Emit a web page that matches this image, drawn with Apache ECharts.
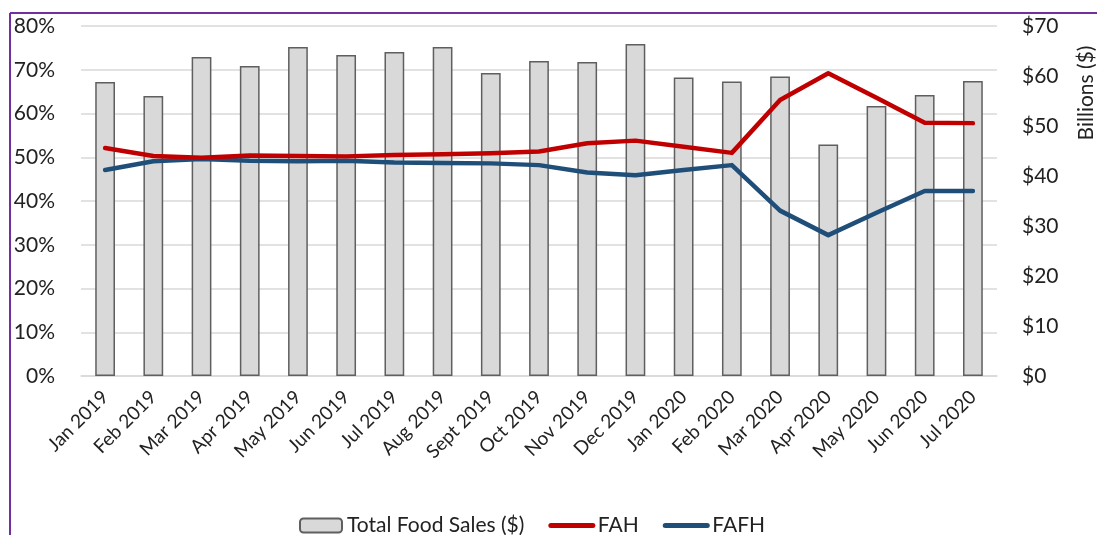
<!DOCTYPE html>
<html>
<head>
<meta charset="utf-8">
<script src="https://cdn.jsdelivr.net/npm/echarts@6/dist/echarts.min.js"></script>
<style>
html,body{margin:0;padding:0;background:#fff;}
#main{width:1097px;height:535px;}
</style>
</head>
<body>
<div id="main"></div>
<script>
var categories = ['Jan 2019','Feb 2019','Mar 2019','Apr 2019','May 2019','Jun 2019','Jul 2019','Aug 2019','Sept 2019','Oct 2019','Nov 2019','Dec 2019','Jan 2020','Feb 2020','Mar 2020','Apr 2020','May 2020','Jun 2020','Jul 2020'];
var totalFoodSales = [58.8, 56.0, 63.8, 62.0, 65.8, 64.2, 64.8, 65.8, 60.6, 63.0, 62.8, 66.4, 59.7, 58.9, 59.9, 46.3, 54.0, 56.2, 59.0];
var fah = [52.1, 50.3, 49.9, 50.4, 50.3, 50.2, 50.5, 50.7, 50.9, 51.3, 53.2, 53.8, 52.4, 51.0, 63.1, 69.2, 63.6, 57.9, 57.8];
var fafh = [47.1, 49.1, 49.6, 49.2, 49.1, 49.2, 48.8, 48.7, 48.6, 48.2, 46.5, 45.9, 47.1, 48.2, 37.8, 32.2, 37.3, 42.3, 42.3];
var leftTicks = {min: 0, max: 80, interval: 10};
var rightTicks = {min: 0, max: 70, interval: 10};

var FONT = 'Lato';
var chart = echarts.init(document.getElementById('main'));
chart.setOption({
  animation: false,
  backgroundColor: '#ffffff',
  textStyle: {fontFamily: FONT},
  grid: {left: 81, right: 100, top: 26, bottom: 159},
  legend: {
    left: 294, top: 510,
    itemWidth: 42, itemHeight: 14, itemGap: 24,
    textStyle: {fontFamily: FONT, fontSize: 21, color: '#222'},
    data: [
      {name: 'Total Food Sales ($)'},
      {name: 'FAH', itemStyle: {opacity: 0}, lineStyle: {width: 5, cap: 'round'}},
      {name: 'FAFH', itemStyle: {opacity: 0}, lineStyle: {width: 5, cap: 'round'}}
    ]
  },
  xAxis: {
    type: 'category',
    data: categories,
    axisLine: {show: true, lineStyle: {color: '#d9d9d9', width: 1.5}},
    axisTick: {show: false},
    axisLabel: {rotate: 45, fontFamily: FONT, fontSize: 19, color: '#222', margin: 18, interval: 0}
  },
  yAxis: [
    {
      type: 'value', min: leftTicks.min, max: leftTicks.max, interval: leftTicks.interval,
      axisLabel: {formatter: '{value}%', fontFamily: FONT, fontSize: 21, color: '#222', margin: 26},
      axisLine: {show: false}, axisTick: {show: false},
      splitLine: {lineStyle: {color: '#d9d9d9', width: 1.5}}
    },
    {
      type: 'value', min: rightTicks.min, max: rightTicks.max, interval: rightTicks.interval,
      position: 'right',
      axisLabel: {formatter: '${value}', fontFamily: FONT, fontSize: 21, color: '#222', margin: 25},
      axisLine: {show: false}, axisTick: {show: false},
      splitLine: {show: false}
    }
  ],
  series: [
    {
      name: 'Total Food Sales ($)', type: 'bar', yAxisIndex: 1,
      data: totalFoodSales, barWidth: '41%',
      itemStyle: {color: '#d9d9d9', borderColor: '#5f5f5f', borderWidth: 1.5}
    },
    {
      name: 'FAH', type: 'line', yAxisIndex: 0, data: fah,
      symbol: 'none', z: 5,
      lineStyle: {color: '#c00000', width: 4.5, cap: 'round', join: 'round'},
      itemStyle: {color: '#c00000'}
    },
    {
      name: 'FAFH', type: 'line', yAxisIndex: 0, data: fafh,
      symbol: 'none', z: 4,
      lineStyle: {color: '#1f4e79', width: 4.5, cap: 'round', join: 'round'},
      itemStyle: {color: '#1f4e79'}
    }
  ],
  graphic: [
    {type: 'line', shape: {x1: 10, y1: 13, x2: 1097, y2: 13}, style: {stroke: '#7030a0', lineWidth: 2}},
    {type: 'line', shape: {x1: 10, y1: 13, x2: 10, y2: 535}, style: {stroke: '#7030a0', lineWidth: 2}},
    {
      type: 'text', x: 1086, y: 93, rotation: Math.PI / 2,
      style: {text: 'Billions ($)', font: '21px ' + FONT, fill: '#222', textAlign: 'center', textVerticalAlign: 'middle'}
    }
  ]
});
</script>
</body>
</html>
